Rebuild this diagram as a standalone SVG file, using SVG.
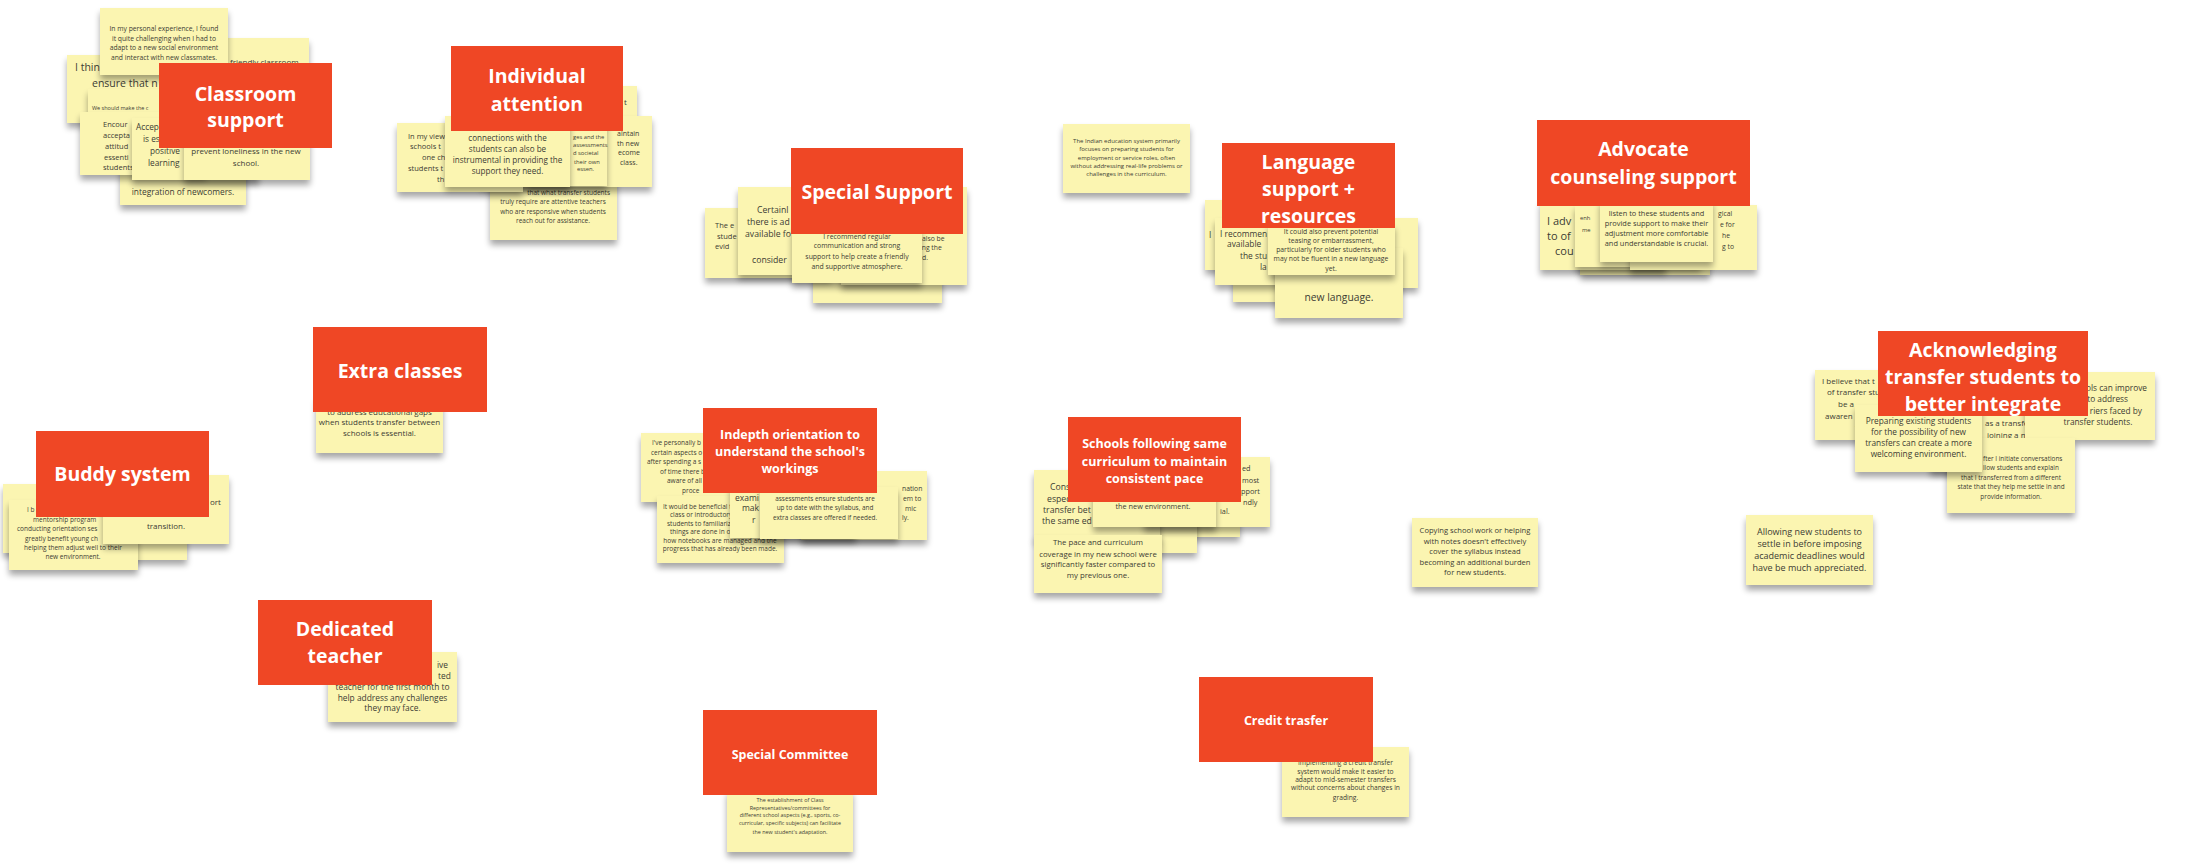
<svg xmlns="http://www.w3.org/2000/svg" width="2209" height="865" viewBox="0 0 2209 865">
<defs>
<style>
.st{fill:#FBF5B1;filter:url(#sh)}
.hd{fill:#EF4725}
.ht{font-family:"Open Sans","Liberation Sans",sans-serif;font-weight:700;fill:#fff;text-anchor:middle}
.t{font-family:"Open Sans","Liberation Sans",sans-serif;fill:#3c3c34}
.c{text-anchor:middle}
.e{text-anchor:end}
</style>
<filter id="sh" x="-10%" y="-15%" width="120%" height="150%">
<feGaussianBlur in="SourceAlpha" stdDeviation="3"/>
<feOffset dy="5"/>
<feComponentTransfer><feFuncA type="linear" slope="0.35"/></feComponentTransfer>
<feMerge><feMergeNode/><feMergeNode in="SourceGraphic"/></feMerge>
</filter>
<clipPath id="clipAck"><rect x="1878" y="331" width="210" height="85"/></clipPath>
</defs>
<rect width="2209" height="865" fill="#ffffff"/>

<!-- Classroom support cluster -->
<g id="classroom-support">
<g id="cs-note-e"><rect class="st" x="182" y="38" width="127" height="70"/><text class="t" font-size="8" x="230" y="65">friendly classroom</text></g>
<g id="cs-note-b"><rect class="st" x="67" y="55" width="126" height="68"/><text class="t" font-size="10.5"><tspan x="75" y="71">I thin</tspan><tspan x="92" y="87">ensure that n</tspan></text></g>
<g id="cs-note-a"><rect class="st" x="100" y="8" width="128" height="67"/>
<text class="t c" font-size="6.75"><tspan x="164" y="31">In my personal experience, I found</tspan><tspan x="164" y="40.5">it quite challenging when I had to</tspan><tspan x="164" y="50">adapt to a new social environment</tspan><tspan x="164" y="59.5">and interact with new classmates.</tspan></text></g>
<g id="cs-note-f"><rect class="st" x="120" y="135" width="126" height="70"/><text class="t c" font-size="8.4" x="183" y="195">integration of newcomers.</text></g>
<g id="cs-note-h"><rect class="st" x="88" y="89" width="126" height="62"/><text class="t" font-size="5.5" x="92" y="110">We should make the c</text></g>
<g id="cs-note-c"><rect class="st" x="80" y="112" width="126" height="63"/>
<text class="t" font-size="7.5"><tspan x="103" y="127">Encour</tspan><tspan x="103" y="138">accepta</tspan><tspan x="105" y="149">attitud</tspan><tspan x="104" y="160">essenti</tspan><tspan x="103" y="170">students</tspan></text></g>
<g id="cs-note-d"><rect class="st" x="132" y="118" width="127" height="62"/>
<text class="t" font-size="8.3"><tspan x="136" y="130">Accep</tspan><tspan x="143" y="142">is es</tspan><tspan x="150" y="154">positive</tspan><tspan x="148" y="166">learning</tspan></text></g>
<g id="cs-note-g"><rect class="st" x="184" y="104" width="126" height="76"/>
<text class="t c" font-size="8"><tspan x="246" y="154">prevent loneliness in the new</tspan><tspan x="246" y="166">school.</tspan></text></g>
<g id="cs-header"><rect class="hd" x="159" y="63" width="173" height="85"/>
<text class="ht" font-size="19.5"><tspan x="245.5" y="101">Classroom</tspan><tspan x="245.5" y="127">support</tspan></text></g>
</g>

<!-- Individual attention cluster -->
<g id="individual-attention">
<g id="ia-note-5"><rect class="st" x="490" y="172" width="127" height="68"/>
<text class="t e" font-size="6.5" x="610" y="195">that what transfer students</text>
<text class="t c" font-size="6.5"><tspan x="553" y="204">truly require are attentive teachers</tspan><tspan x="553" y="214">who are responsive when students</tspan><tspan x="553" y="223">reach out for assistance.</tspan></text></g>
<g id="ia-note-3a"><rect class="st" x="511" y="86" width="126" height="70"/><text class="t" font-size="8" x="624" y="105">t</text></g>
<g id="ia-note-4"><rect class="st" x="526" y="116" width="126" height="71"/>
<text class="t" font-size="7"><tspan x="617" y="136">aintain</tspan><tspan x="617" y="146">th new</tspan><tspan x="618" y="155">ecome</tspan><tspan x="620" y="165">class.</tspan></text></g>
<g id="ia-note-3b"><rect class="st" x="481" y="117" width="126" height="69"/>
<text class="t" font-size="5.8"><tspan x="573" y="139">ges and the</tspan><tspan x="573" y="147">assessments</tspan><tspan x="573" y="155">d societal</tspan><tspan x="574" y="164">their own</tspan><tspan x="577" y="171">essen.</tspan></text></g>
<g id="ia-note-1"><rect class="st" x="397" y="123" width="126" height="69"/>
<text class="t" font-size="7.5"><tspan x="408" y="139">In my view</tspan><tspan x="410" y="149">schools t</tspan><tspan x="422" y="160">one ch</tspan><tspan x="408" y="171">students t</tspan><tspan x="437" y="182">th</tspan></text></g>
<g id="ia-note-2"><rect class="st" x="445" y="116" width="125" height="71"/>
<text class="t c" font-size="8.1"><tspan x="507.5" y="141">connections with the</tspan><tspan x="507.5" y="152">students can also be</tspan><tspan x="507.5" y="163">instrumental in providing the</tspan><tspan x="507.5" y="174">support they need.</tspan></text></g>
<g id="ia-header"><rect class="hd" x="451" y="46" width="172" height="85"/>
<text class="ht" font-size="19.5"><tspan x="537" y="83">Individual</tspan><tspan x="537" y="111">attention</tspan></text></g>
</g>

<!-- Special Support cluster -->
<g id="special-support">
<g id="ss-note-5"><rect class="st" x="813" y="236" width="129" height="67"/></g>
<g id="ss-note-1"><rect class="st" x="705" y="208" width="126" height="70"/>
<text class="t" font-size="7.5"><tspan x="715" y="228">The e</tspan><tspan x="717" y="239">stude</tspan><tspan x="715" y="249">evid</tspan></text></g>
<g id="ss-note-2"><rect class="st" x="738" y="187" width="126" height="88"/>
<text class="t" font-size="8.7"><tspan x="757" y="213">Certainl</tspan><tspan x="747" y="225">there is ad</tspan><tspan x="745" y="237">available fo</tspan><tspan x="752" y="263">consider</tspan></text></g>
<g id="ss-note-3"><rect class="st" x="841" y="187" width="126" height="98"/>
<text class="t" font-size="6.8"><tspan x="922" y="241">also be</tspan><tspan x="920" y="250">ing the</tspan><tspan x="922" y="260">d.</tspan></text></g>
<g id="ss-note-4"><rect class="st" x="792" y="228" width="130" height="55"/>
<text class="t c" font-size="6.9"><tspan x="857" y="239">I recommend regular</tspan><tspan x="857" y="248">communication and strong</tspan><tspan x="857" y="259">support to help create a friendly</tspan><tspan x="857" y="269">and supportive atmosphere.</tspan></text></g>
<g id="ss-header"><rect class="hd" x="791" y="148" width="172" height="86"/>
<text class="ht" font-size="19.5" x="877" y="199">Special Support</text></g>
</g>

<!-- Standalone note on the education system -->
<g id="note-indian-education"><rect class="st" x="1063" y="124" width="127" height="69"/>
<text class="t c" font-size="6"><tspan x="1126.5" y="143">The Indian education system primarily</tspan><tspan x="1126.5" y="151">focuses on preparing students for</tspan><tspan x="1126.5" y="160">employment or service roles, often</tspan><tspan x="1126.5" y="168">without addressing real-life problems or</tspan><tspan x="1126.5" y="176">challenges in the curriculum.</tspan></text></g>

<!-- Language support + resources cluster -->
<g id="language-support">
<g id="ls-note-1"><rect class="st" x="1205" y="200" width="126" height="70"/><text class="t" font-size="8.4" x="1209" y="238">I</text></g>
<g id="ls-note-6"><rect class="st" x="1233" y="235" width="126" height="67"/></g>
<g id="ls-note-2"><rect class="st" x="1215" y="218" width="126" height="67"/>
<text class="t" font-size="8.4"><tspan x="1220" y="237">I recommen</tspan><tspan x="1227" y="247">available</tspan><tspan x="1240" y="259">the stu</tspan><tspan x="1260" y="270">la</tspan></text></g>
<g id="ls-note-4"><rect class="st" x="1292" y="218" width="126" height="70"/></g>
<g id="ls-note-5"><rect class="st" x="1275" y="248" width="128" height="70"/><text class="t c" font-size="10.3" x="1339" y="301">new language.</text></g>
<g id="ls-note-3"><rect class="st" x="1268" y="224" width="127" height="51"/>
<text class="t c" font-size="6.8"><tspan x="1331" y="234">It could also prevent potential</tspan><tspan x="1331" y="243">teasing or embarrassment,</tspan><tspan x="1331" y="252">particularly for older students who</tspan><tspan x="1331" y="261">may not be fluent in a new language</tspan><tspan x="1331" y="271">yet.</tspan></text></g>
<g id="ls-header"><rect class="hd" x="1222" y="143" width="173" height="85"/>
<text class="ht" font-size="19.5"><tspan x="1308.5" y="169">Language</tspan><tspan x="1308.5" y="196">support +</tspan><tspan x="1308.5" y="223">resources</tspan></text></g>
</g>

<!-- Advocate counseling support cluster -->
<g id="advocate-counseling">
<g id="ac-note-5"><rect class="st" x="1580" y="208" width="130" height="67"/></g>
<g id="ac-note-1"><rect class="st" x="1540" y="200" width="126" height="70"/>
<text class="t" font-size="11"><tspan x="1547" y="225">I adv</tspan><tspan x="1547" y="240">to of</tspan><tspan x="1555" y="255">cou</tspan></text></g>
<g id="ac-note-2"><rect class="st" x="1575" y="205" width="126" height="62"/>
<text class="t" font-size="5.8"><tspan x="1580" y="220">enh</tspan><tspan x="1582" y="232">me</tspan></text></g>
<g id="ac-note-4"><rect class="st" x="1630" y="205" width="127" height="65"/>
<text class="t" font-size="6.8"><tspan x="1718" y="216">gical</tspan><tspan x="1720" y="227">e for</tspan><tspan x="1722" y="238">he</tspan><tspan x="1722" y="249">g to</tspan></text></g>
<g id="ac-note-3"><rect class="st" x="1600" y="200" width="113" height="62"/>
<text class="t c" font-size="7.4"><tspan x="1656.5" y="216">listen to these students and</tspan><tspan x="1656.5" y="226">provide support to make their</tspan><tspan x="1656.5" y="236">adjustment more comfortable</tspan><tspan x="1656.5" y="246">and understandable is crucial.</tspan></text></g>
<g id="ac-header"><rect class="hd" x="1537" y="120" width="213" height="86"/>
<text class="ht" font-size="19.5"><tspan x="1643.5" y="156">Advocate</tspan><tspan x="1643.5" y="184">counseling support</tspan></text></g>
</g>

<!-- Acknowledging transfer students cluster -->
<g id="acknowledging">
<g id="ak-note-1"><rect class="st" x="1815" y="370" width="126" height="70"/>
<text class="t" font-size="8"><tspan x="1822" y="384">I believe that t</tspan><tspan x="1827" y="395">of transfer stu</tspan><tspan x="1838" y="407">be a</tspan><tspan x="1825" y="419">awaren</tspan><tspan x="1855" y="430">t</tspan></text></g>
<g id="ak-note-3"><rect class="st" x="1930" y="405" width="126" height="66"/>
<text class="t" font-size="8"><tspan x="1985" y="426">as a transfe</tspan><tspan x="1987" y="438">joining a n</tspan></text></g>
<g id="ak-note-2"><rect class="st" x="2025" y="372" width="130" height="68"/>
<text class="t e" font-size="8.3"><tspan x="2147" y="391">ols can improve</tspan><tspan x="2128" y="402">s to address</tspan><tspan x="2142" y="414">riers faced by</tspan></text>
<text class="t c" font-size="8.3" x="2098" y="425">transfer students.</text></g>
<g id="ak-note-5"><rect class="st" x="1947" y="438" width="128" height="75"/>
<text class="t" font-size="6.4"><tspan x="1983" y="461">fter I initiate conversations</tspan><tspan x="1983" y="470">llow students and explain</tspan></text>
<text class="t c" font-size="6.4"><tspan x="2011" y="480">that I transferred from a different</tspan><tspan x="2011" y="489">state that they help me settle in and</tspan><tspan x="2011" y="499">provide information.</tspan></text></g>
<g id="ak-note-4"><rect class="st" x="1855" y="405" width="127" height="67"/>
<text class="t c" font-size="8.3"><tspan x="1918.5" y="424">Preparing existing students</tspan><tspan x="1918.5" y="435">for the possibility of new</tspan><tspan x="1918.5" y="446">transfers can create a more</tspan><tspan x="1918.5" y="457">welcoming environment.</tspan></text></g>
<g id="ak-header"><rect class="hd" x="1878" y="331" width="210" height="85"/>
<text class="ht" font-size="19.5" clip-path="url(#clipAck)"><tspan x="1983" y="357">Acknowledging</tspan><tspan x="1983" y="384">transfer students to</tspan><tspan x="1983" y="411">better integrate</tspan></text></g>
</g>

<g id="note-deadlines"><rect class="st" x="1746" y="515" width="127" height="70"/>
<text class="t c" font-size="9"><tspan x="1809.5" y="535">Allowing new students to</tspan><tspan x="1809.5" y="547">settle in before imposing</tspan><tspan x="1809.5" y="559">academic deadlines would</tspan><tspan x="1809.5" y="571">have be much appreciated.</tspan></text></g>

<!-- Extra classes cluster -->
<g id="extra-classes">
<g id="ec-note"><rect class="st" x="316" y="396" width="127" height="57"/>
<text class="t c" font-size="8"><tspan x="379.5" y="415">to address educational gaps</tspan><tspan x="379.5" y="425">when students transfer between</tspan><tspan x="379.5" y="436">schools is essential.</tspan></text></g>
<g id="ec-header"><rect class="hd" x="313" y="327" width="174" height="85"/>
<text class="ht" font-size="19.5" x="400" y="378">Extra classes</text></g>
</g>

<!-- Buddy system cluster -->
<g id="buddy-system">
<g id="bs-note-1"><rect class="st" x="3" y="484" width="127" height="69"/></g>
<g id="bs-note-2"><rect class="st" x="60" y="492" width="127" height="68"/></g>
<g id="bs-note-3"><rect class="st" x="9" y="500" width="129" height="70"/>
<text class="t" font-size="6.5"><tspan x="27" y="512">I b</tspan><tspan x="33" y="522">mentorship program</tspan><tspan x="17" y="531">conducting orientation ses</tspan><tspan x="25" y="541">greatly benefit young ch</tspan></text>
<text class="t c" font-size="6.5"><tspan x="73" y="550">helping them adjust well to their</tspan><tspan x="73" y="559">new environment.</tspan></text></g>
<g id="bs-note-4"><rect class="st" x="103" y="475" width="126" height="69"/>
<text class="t" font-size="8" x="210" y="505">ort</text>
<text class="t c" font-size="8" x="166" y="529">transition.</text></g>
<g id="bs-header"><rect class="hd" x="36" y="431" width="173" height="86"/>
<text class="ht" font-size="19.5" x="122.5" y="481">Buddy system</text></g>
</g>

<!-- Indepth orientation cluster -->
<g id="indepth-orientation">
<g id="io-note-1"><rect class="st" x="641" y="433" width="126" height="69"/>
<text class="t" font-size="6.5"><tspan x="652" y="445">I've personally b</tspan><tspan x="651" y="455">certain aspects o</tspan><tspan x="647" y="464">after spending a s</tspan><tspan x="660" y="474">of time there b</tspan><tspan x="667" y="483">aware of all</tspan><tspan x="682" y="493">proce</tspan></text></g>
<g id="io-note-2"><rect class="st" x="657" y="496" width="127" height="67"/>
<text class="t" font-size="6.5"><tspan x="663" y="509">It would be beneficial t</tspan><tspan x="670" y="517">class or introductory</tspan><tspan x="667" y="526">students to familiariz</tspan><tspan x="670" y="534">things are done in ou</tspan></text>
<text class="t c" font-size="6.5"><tspan x="720" y="543">how notebooks are managed and the</tspan><tspan x="720" y="551">progress that has already been made.</tspan></text></g>
<g id="io-note-5"><rect class="st" x="801" y="471" width="126" height="69"/>
<text class="t" font-size="6.8"><tspan x="902" y="491">nation</tspan><tspan x="903" y="501">em to</tspan><tspan x="905" y="511">mic</tspan><tspan x="902" y="520">ly.</tspan></text></g>
<g id="io-note-3"><rect class="st" x="730" y="485" width="126" height="53"/>
<text class="t" font-size="8.5"><tspan x="735" y="501">exami</tspan><tspan x="742" y="511">mak</tspan><tspan x="752" y="523">r</tspan></text></g>
<g id="io-note-4"><rect class="st" x="760" y="487" width="138" height="52"/>
<text class="t c" font-size="6.4"><tspan x="825" y="501">assessments ensure students are</tspan><tspan x="825" y="510">up to date with the syllabus, and</tspan><tspan x="825" y="520">extra classes are offered if needed.</tspan></text></g>
<g id="io-header"><rect class="hd" x="703" y="408" width="174" height="85"/>
<text class="ht" font-size="12.5"><tspan x="790" y="439">Indepth orientation to</tspan><tspan x="790" y="456">understand the school's</tspan><tspan x="790" y="473">workings</tspan></text></g>
</g>

<!-- Same curriculum cluster -->
<g id="same-curriculum">
<g id="sc-note-4"><rect class="st" x="1114" y="467" width="126" height="70"/></g>
<g id="sc-note-3"><rect class="st" x="1071" y="483" width="126" height="70"/></g>
<g id="sc-note-1"><rect class="st" x="1034" y="470" width="126" height="70"/>
<text class="t" font-size="8.7"><tspan x="1050" y="490">Cons</tspan><tspan x="1047" y="502">espec</tspan><tspan x="1043" y="513">transfer bet</tspan><tspan x="1042" y="524">the same ed</tspan></text></g>
<g id="sc-note-6"><rect class="st" x="1144" y="457" width="126" height="70"/>
<text class="t" font-size="7.3"><tspan x="1242" y="471">ed</tspan><tspan x="1242" y="483">most</tspan><tspan x="1241" y="494">pport</tspan><tspan x="1243" y="505">ndly</tspan><tspan x="1220" y="514">ial.</tspan></text></g>
<g id="sc-note-5"><rect class="st" x="1093" y="460" width="123" height="67"/>
<text class="t c" font-size="7.3" x="1153" y="509">the new environment.</text></g>
<g id="sc-note-2"><rect class="st" x="1034" y="535" width="128" height="58"/>
<text class="t c" font-size="7.8"><tspan x="1098" y="545">The pace and curriculum</tspan><tspan x="1098" y="557">coverage in my new school were</tspan><tspan x="1098" y="567">significantly faster compared to</tspan><tspan x="1098" y="578">my previous one.</tspan></text></g>
<g id="sc-header"><rect class="hd" x="1068" y="417" width="173" height="85"/>
<text class="ht" font-size="12.5"><tspan x="1154.5" y="448">Schools following same</tspan><tspan x="1154.5" y="466">curriculum to maintain</tspan><tspan x="1154.5" y="483">consistent pace</tspan></text></g>
</g>

<g id="note-copying"><rect class="st" x="1412" y="518" width="126" height="69"/>
<text class="t c" font-size="7.6"><tspan x="1475" y="533">Copying school work or helping</tspan><tspan x="1475" y="544">with notes doesn't effectively</tspan><tspan x="1475" y="554">cover the syllabus instead</tspan><tspan x="1475" y="565">becoming an additional burden</tspan><tspan x="1475" y="575">for new students.</tspan></text></g>

<!-- Dedicated teacher cluster -->
<g id="dedicated-teacher">
<g id="dt-note"><rect class="st" x="328" y="652" width="129" height="70"/>
<text class="t" font-size="8.4"><tspan x="437" y="668">ive</tspan><tspan x="438" y="679">ted</tspan></text>
<text class="t c" font-size="8.4"><tspan x="392.5" y="690">teacher for the first month to</tspan><tspan x="392.5" y="701">help address any challenges</tspan><tspan x="392.5" y="711">they may face.</tspan></text></g>
<g id="dt-header"><rect class="hd" x="258" y="600" width="174" height="85"/>
<text class="ht" font-size="19.5"><tspan x="345" y="636">Dedicated</tspan><tspan x="345" y="663">teacher</tspan></text></g>
</g>

<!-- Special Committee cluster -->
<g id="special-committee">
<g id="sm-note"><rect class="st" x="727" y="790" width="126" height="62"/>
<text class="t c" font-size="5.4"><tspan x="790" y="802">The establishment of Class</tspan><tspan x="790" y="810">Representatives/committees for</tspan><tspan x="790" y="817">different school aspects (e.g., sports, co-</tspan><tspan x="790" y="825">curricular, specific subjects) can facilitate</tspan><tspan x="790" y="834">the new student's adaptation.</tspan></text></g>
<g id="sm-header"><rect class="hd" x="703" y="710" width="174" height="85"/>
<text class="ht" font-size="12.5" x="790" y="759">Special Committee</text></g>
</g>

<!-- Credit transfer cluster -->
<g id="credit-transfer">
<g id="ct-note"><rect class="st" x="1282" y="747" width="127" height="70"/>
<text class="t c" font-size="6.7"><tspan x="1345.5" y="765">Implementing a credit transfer</tspan><tspan x="1345.5" y="774">system would make it easier to</tspan><tspan x="1345.5" y="782">adapt to mid-semester transfers</tspan><tspan x="1345.5" y="790">without concerns about changes in</tspan><tspan x="1345.5" y="800">grading.</tspan></text></g>
<g id="ct-header"><rect class="hd" x="1199" y="677" width="174" height="85"/>
<text class="ht" font-size="12.5" x="1286" y="725">Credit trasfer</text></g>
</g>
</svg>
